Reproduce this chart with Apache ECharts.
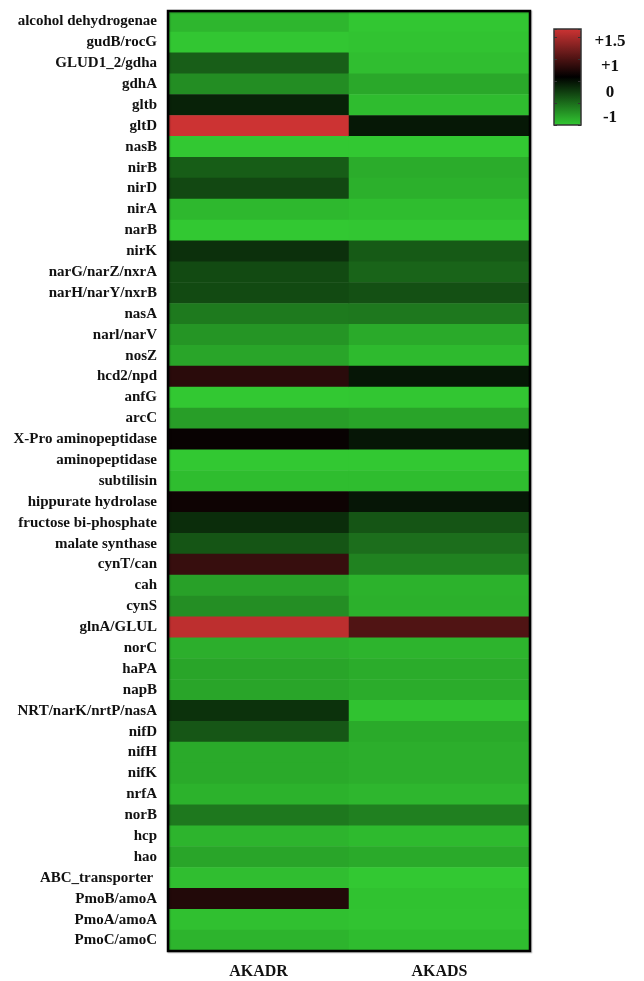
<!DOCTYPE html>
<html>
<head>
<meta charset="utf-8">
<script src="https://cdn.jsdelivr.net/npm/echarts@6/dist/echarts.min.js"></script>
<style>
  html, body { margin: 0; padding: 0; background: #fff; }
  #chart { width: 644px; height: 981px; }
</style>
</head>
<body>
<div id="chart"></div>
<script>
// Gene / enzyme rows, top to bottom
const genes = [
  'alcohol dehydrogenae', 'gudB/rocG', 'GLUD1_2/gdha', 'gdhA', 'gltb', 'gltD',
  'nasB', 'nirB', 'nirD', 'nirA', 'narB', 'nirK', 'narG/narZ/nxrA',
  'narH/narY/nxrB', 'nasA', 'narl/narV', 'nosZ', 'hcd2/npd', 'anfG', 'arcC',
  'X-Pro aminopeptidase', 'aminopeptidase', 'subtilisin', 'hippurate hydrolase',
  'fructose bi-phosphate', 'malate synthase', 'cynT/can', 'cah', 'cynS',
  'glnA/GLUL', 'norC', 'haPA', 'napB', 'NRT/narK/nrtP/nasA', 'nifD', 'nifH',
  'nifK', 'nrfA', 'norB', 'hcp', 'hao', 'ABC_transporter ', 'PmoB/amoA',
  'PmoA/amoA', 'PmoC/amoC'
];

// Sample columns
const samples = ['AKADR', 'AKADS'];

// Relative abundance scores per gene
const akadr = [
  -0.89, -0.99, -0.34, -0.63, 0.04, 1.50,
  -1.00, -0.33, -0.20, -0.90, -1.00, -0.05, -0.21,
  -0.21, -0.51, -0.68, -0.78, 0.51, -1.00, -0.74,
  0.30, -1.00, -0.93, 0.335,
  -0.03, -0.28, 0.59, -0.75, -0.64,
  1.41, -0.84, -0.78, -0.78, -0.06, -0.29, -0.81,
  -0.81, -0.86, -0.50, -0.875, -0.78, -0.94, 0.46,
  -0.95, -0.875
];
const akads = [
  -0.99, -0.97, -0.94, -0.80, -0.925, 0.10,
  -1.00, -0.825, -0.85, -0.93, -0.99, -0.31, -0.375,
  -0.25, -0.50, -0.81, -0.91, 0.11, -0.99, -0.775,
  0.11, -1.00, -0.93, 0.11,
  -0.28, -0.44, -0.56, -0.86, -0.85,
  0.74, -0.875, -0.825, -0.825, -0.96, -0.81, -0.84,
  -0.84, -0.89, -0.55, -0.91, -0.81, -1.00, -0.96,
  -0.97, -0.925
];

// Colour scale tick labels, bottom to top
const scaleLabels = ['-1', '0', '+1', '+1.5'];
const scaleMin = -1;
const scaleMax = 1.5;

// Layout of the heatmap panel and the colour key
const panel = { left: 168, top: 11, width: 362, height: 940 };
const key = { left: 554, top: 29, width: 27, height: 96 };

const cells = [];
[akadr, akads].forEach(function (col, xi) {
  col.forEach(function (v, yi) { cells.push([xi, yi, v]); });
});

const serif = '"Liberation Serif", "Times New Roman", serif';

const chart = echarts.init(document.getElementById('chart'), null, { renderer: 'canvas' });

chart.setOption({
  backgroundColor: '#ffffff',
  animation: false,
  grid: [
    { left: panel.left, top: panel.top, width: panel.width, height: panel.height },
    { left: key.left, top: key.top, width: key.width, height: key.height },
    { left: key.left, top: key.top, width: key.width, height: key.height + 5 }
  ],
  xAxis: [
    {
      type: 'category', gridIndex: 0, data: samples, position: 'bottom',
      axisLine: { show: false }, axisTick: { show: false }, splitLine: { show: false },
      axisLabel: { margin: 13, fontFamily: serif, fontWeight: 'bold', fontSize: 16, color: '#111' }
    },
    { type: 'value', gridIndex: 1, show: false },
    { type: 'value', gridIndex: 2, show: false }
  ],
  yAxis: [
    {
      type: 'category', gridIndex: 0, data: genes, inverse: true,
      axisLine: { show: false }, axisTick: { show: false }, splitLine: { show: false },
      axisLabel: { margin: 11, fontFamily: serif, fontWeight: 'bold', fontSize: 15, color: '#111' }
    },
    // short tick marks on both edges of the colour key
    {
      type: 'value', gridIndex: 1, position: 'left', min: 0, max: 48, interval: 11, z: 20,
      axisLine: { show: false }, splitLine: { show: false }, axisLabel: { show: false },
      axisTick: { show: true, inside: true, length: 3, lineStyle: { color: '#333', width: 1 } }
    },
    {
      type: 'value', gridIndex: 1, position: 'right', min: 0, max: 48, interval: 11, z: 20,
      axisLine: { show: false }, splitLine: { show: false }, axisLabel: { show: false },
      axisTick: { show: true, inside: true, length: 3, lineStyle: { color: '#333', width: 1 } }
    },
    // colour key labels
    {
      type: 'category', gridIndex: 2, position: 'right', data: scaleLabels,
      axisLine: { show: false }, axisTick: { show: false }, splitLine: { show: false },
      axisLabel: { margin: 29, align: 'center', fontFamily: serif, fontWeight: 'bold', fontSize: 17, color: '#111' }
    }
  ],
  visualMap: {
    type: 'continuous',
    seriesIndex: 0,
    min: scaleMin,
    max: scaleMax,
    calculable: false,
    hoverLink: false,
    left: key.left,
    top: key.top,
    itemWidth: key.width,
    itemHeight: key.height,
    padding: 0,
    z: 4,
    inRange: { color: ['#32c832', '#000000', '#cc3333'] }
  },
  series: [{
    type: 'heatmap',
    xAxisIndex: 0,
    yAxisIndex: 0,
    data: cells,
    itemStyle: { borderWidth: 0 },
    emphasis: { disabled: true }
  }],
  graphic: [
    {
      type: 'rect', z: 100, silent: true,
      shape: { x: panel.left, y: panel.top, width: panel.width, height: panel.height },
      style: { fill: null, stroke: '#000', lineWidth: 2.5, shadowColor: 'rgba(0,0,0,0.25)', shadowOffsetX: 1, shadowOffsetY: 1, shadowBlur: 1 }
    },
    {
      type: 'rect', z: 100, silent: true,
      shape: { x: key.left, y: key.top, width: key.width, height: key.height },
      style: { fill: null, stroke: '#333', lineWidth: 1.5 }
    }
  ]
});
</script>
</body>
</html>
